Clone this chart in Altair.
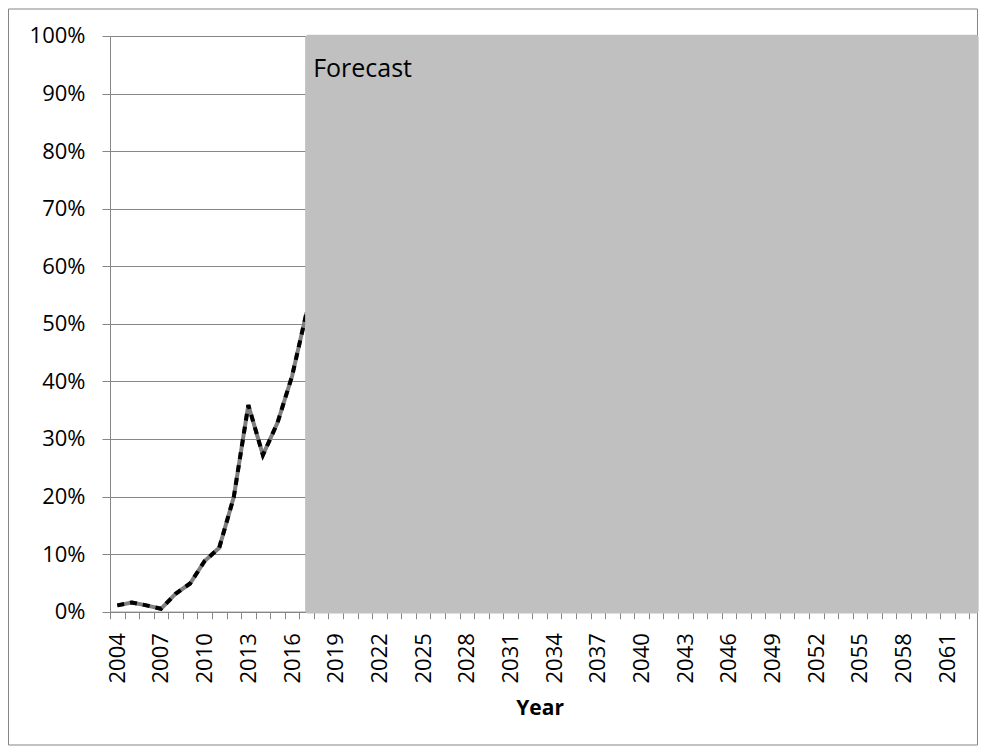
import altair as alt
import pandas as pd

# Observed share by year (fraction of 1)
years = [2004, 2005, 2006, 2007, 2008, 2009, 2010, 2011, 2012, 2013, 2014, 2015, 2016, 2017]
share = [0.011, 0.016, 0.011, 0.005, 0.031, 0.049, 0.088, 0.111, 0.199, 0.359, 0.272, 0.328, 0.409, 0.52]

# Category axis: one slot per year, labels every third year
first_year, last_year = 2004, 2062
label_years = list(range(2004, 2062, 3))
y_ticks = [i / 10 for i in range(11)]

# Shaded forecast region and its label
forecast_x = [2016.9, 2063.15]
forecast_y = [-0.003, 1.002]
forecast_label = ["Forecast"]

GRID = "#868686"
FONT = "Open Sans"

df = pd.DataFrame({"year": years, "share": share})
band = pd.DataFrame({"x0": [forecast_x[0]], "x1": [forecast_x[1]],
                     "y0": [forecast_y[0]], "y1": [forecast_y[1]],
                     "label": forecast_label})

# tick marks sit between the year slots; labels sit at slot centres
boundaries = [y - 0.5 for y in range(first_year, last_year + 2)]
axis_values = sorted(boundaries + label_years)
x_scale = alt.Scale(domain=[first_year - 0.5, last_year + 0.5], nice=False, zero=False)
y_scale = alt.Scale(domain=[0, 1], nice=False)

x_axis = alt.Axis(
    values=axis_values, tickCount=1000,
    labelExpr="datum.value % 1 === 0 ? '' + datum.value : ''",
    tickOpacity={"condition": {"test": "datum.value % 1 === 0", "value": 0}, "value": 1},
    labelAngle=-90, labelAlign="right", labelBaseline="middle",
    labelOverlap=False, labelFlush=False, labelBound=False,
    labelFont=FONT, labelFontSize=22, labelColor="black", labelPadding=14,
    tickSize=7, tickColor=GRID, domainColor=GRID, grid=False,
    title="Year", titleFont=FONT, titleFontSize=21, titleFontWeight="bold",
    titleColor="black", titlePadding=14,
)
y_axis = alt.Axis(
    values=y_ticks, format=".0%", tickCount=20,
    labelFont=FONT, labelFontSize=22, labelColor="black", labelPadding=17,
    tickSize=8, tickColor=GRID, domainColor=GRID,
    grid=True, gridColor=GRID, title=None,
)

# Frame around the whole chart area
frame = alt.Chart(pd.DataFrame({"k": [0]})).mark_rect(
    fillOpacity=0, stroke=GRID, strokeWidth=1
).encode(
    x=alt.value(-101.5), x2=alt.value(867.5), y=alt.value(-27), y2=alt.value(709)
)

base = alt.Chart(df).encode(
    x=alt.X("year:Q", scale=x_scale, axis=x_axis),
    y=alt.Y("share:Q", scale=y_scale, axis=y_axis),
)
line_under = base.mark_line(color="#7F7F7F", strokeWidth=4)
line_dash = base.mark_line(color="black", strokeWidth=4, strokeDash=[7, 6])

shade = alt.Chart(band).mark_rect(color="#C0C0C0", cornerRadius=3).encode(
    x=alt.X("x0:Q", scale=x_scale), x2="x1:Q",
    y=alt.Y("y0:Q", scale=y_scale), y2="y1:Q",
)
shade_text = alt.Chart(band).mark_text(
    align="left", baseline="alphabetic", dx=8, dy=42,
    font=FONT, fontSize=25, color="black",
).encode(
    x=alt.X("x0:Q", scale=x_scale),
    y=alt.Y("y1:Q", scale=y_scale),
    text="label:N",
)

chart = alt.layer(frame, line_under, line_dash, shade, shade_text).properties(
    width=859.2, height=575.7,
    padding={"left": 8, "top": 8, "right": 0, "bottom": 0},
).configure_view(stroke=None).configure(background="white")

chart.save("out.html", embed_options={"renderer": "svg", "actions": False})
